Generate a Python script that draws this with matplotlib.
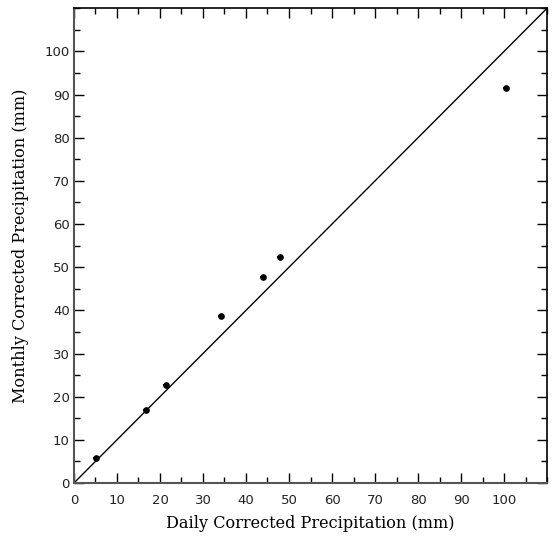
import numpy as np
import matplotlib
matplotlib.use("Agg")
import matplotlib.pyplot as plt
from matplotlib.ticker import MultipleLocator

# daily vs monthly corrected precipitation (mm)
daily = [5.1, 16.7, 21.3, 34.3, 43.9, 47.8, 100.5]
monthly = [5.8, 16.9, 22.8, 38.6, 47.8, 52.4, 91.6]
one_to_one = [0, 110]

fig = plt.figure(figsize=(5.52, 5.37), dpi=100)
ax = fig.add_axes([0.134, 0.1006, 0.857, 0.884])

ax.plot(one_to_one, one_to_one, color="black", linewidth=1.0)
ax.errorbar(daily, monthly, xerr=0.7, yerr=0.4, fmt="o", color="black",
            markersize=3.8, elinewidth=1.3, capsize=0)

ax.set_xlim(0, 110)
ax.set_ylim(0, 110)
ax.xaxis.set_minor_locator(MultipleLocator(5))
ax.yaxis.set_minor_locator(MultipleLocator(5))
ax.set_xticks(np.arange(0, 101, 10))
ax.set_yticks(np.arange(0, 101, 10))

ax.tick_params(which="both", direction="in", top=True, right=True,
               labelsize=9.5, colors="black")
ax.tick_params(which="major", length=7, width=1)
ax.tick_params(which="minor", length=4, width=1)
ax.tick_params(axis="x", pad=8)
ax.tick_params(axis="y", pad=3)
for lab in ax.get_xticklabels() + ax.get_yticklabels():
    lab.set_family("DejaVu Sans")
    lab.set_color("#222222")

for side in ["left", "bottom"]:
    ax.spines[side].set_color("#555555")
    ax.spines[side].set_linewidth(1.5)
for side in ["top", "right"]:
    ax.spines[side].set_linewidth(1.2)

ax.set_xlabel("Daily Corrected Precipitation (mm)", family="DejaVu Serif",
              fontsize=11.6, labelpad=6)
ax.set_ylabel("Monthly Corrected Precipitation (mm)", family="DejaVu Serif",
              fontsize=11.6, labelpad=11)

fig.savefig("out.png", dpi=100)
